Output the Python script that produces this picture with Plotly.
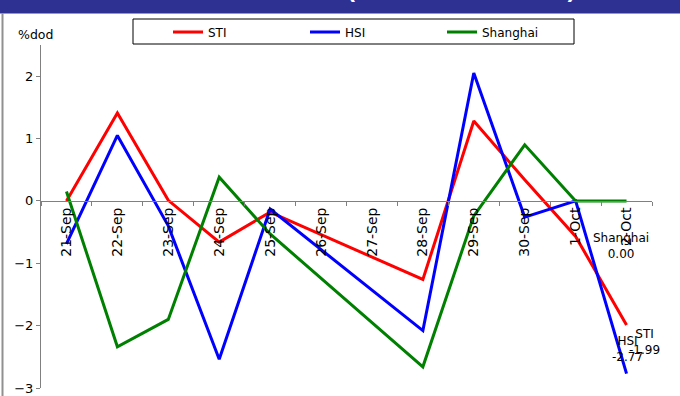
import plotly.graph_objects as go

# Daily % change of regional stock indices
dates = ['21-Sep', '22-Sep', '23-Sep', '24-Sep', '25-Sep', '26-Sep',
         '27-Sep', '28-Sep', '29-Sep', '30-Sep', '1-Oct', '2-Oct']
sti = [0.00, 1.41, 0.01, -0.66, -0.18, None, None, -1.26, 1.28, 0.34, -0.57, -1.99]
hsi = [-0.69, 1.05, -0.40, -2.54, -0.13, None, None, -2.08, 2.05, -0.26, 0.00, -2.77]
shanghai = [0.15, -2.34, -1.90, 0.38, -0.53, None, None, -2.66, -0.24, 0.90, 0.00, 0.00]
y_ticks = [-3, -2, -1, 0, 1, 2]

W, H = 680, 396
L, R, T, B = 41, 28, 45, 8
PW, PH = W - L - R, H - T - B
Y_MIN, Y_MAX = -3, 2.5
FONT = "DejaVu Sans"


def px(x):
    return (x - L) / PW


def py(y):
    return (H - B - y) / PH


series = [
    ("STI", sti, "#FF0000"),
    ("HSI", hsi, "#0000FF"),
    ("Shanghai", shanghai, "#008000"),
]

fig = go.Figure()
for name, vals, color in series:
    fig.add_trace(go.Scatter(
        x=dates, y=vals, name=name, mode="lines",
        line=dict(color=color, width=3),
        connectgaps=True,
    ))

# end-of-period value labels: (series, x shift, y shift)
label_offsets = [("STI", sti, 18, -17), ("HSI", hsi, 1, 25), ("Shanghai", shanghai, -6, -45)]
annotations = []
for name, vals, dx, dy in label_offsets:
    annotations.append(dict(
        x=dates[-1], y=vals[-1], xref="x", yref="y",
        text=f"{name}<br>{vals[-1]:.2f}", showarrow=False,
        xshift=dx, yshift=dy, font=dict(family=FONT, size=12, color="black"),
    ))

annotations.append(dict(
    x=px(35), y=py(35), xref="paper", yref="paper", text="%dod",
    showarrow=False, xanchor="center", yanchor="middle",
    font=dict(family=FONT, size=12.5, color="black"),
))
annotations.append(dict(
    x=px(578), y=py(6.5), xref="paper", yref="paper",
    text="<b>Stock Indices (% dod Movement)</b>", showarrow=False,
    xanchor="right", yanchor="bottom",
    font=dict(family=FONT, size=21.5, color="white"),
))

shapes = [
    dict(type="rect", xref="paper", yref="paper",
         x0=px(0), x1=px(W), y0=py(13.5), y1=py(-5),
         fillcolor="#2E3192", line=dict(width=0), layer="below"),
    dict(type="line", xref="paper", yref="paper",
         x0=px(2.5), x1=px(2.5), y0=py(13.5), y1=py(H + 5),
         line=dict(color="#909090", width=2)),
    dict(type="rect", xref="paper", yref="paper",
         x0=px(133), x1=px(574), y0=py(44), y1=py(19),
         fillcolor="white", line=dict(color="black", width=1), layer="below"),
]

fig.update_layout(
    width=W, height=H,
    margin=dict(l=L, r=R, t=T, b=B, autoexpand=False),
    paper_bgcolor="white", plot_bgcolor="white",
    font=dict(family=FONT, color="black"),
    showlegend=True,
    legend=dict(
        orientation="h", xref="container", yref="container",
        x=168 / W, y=1 - 32 / H, xanchor="left", yanchor="middle",
        entrywidth=92, entrywidthmode="pixels",
        bgcolor="rgba(0,0,0,0)", borderwidth=0,
        font=dict(family=FONT, size=12, color="black"),
        itemclick=False,
    ),
    xaxis=dict(
        type="category", range=[-0.5, len(dates) - 0.5],
        anchor="free", position=(0 - Y_MIN) / (Y_MAX - Y_MIN),
        showline=True, linecolor="#808080", linewidth=1,
        ticks="outside", ticklen=4, tickcolor="#808080", tickson="boundaries",
        tickangle=-90, tickfont=dict(family=FONT, size=14, color="black"),
        showgrid=False, zeroline=False, automargin=False,
    ),
    yaxis=dict(
        range=[Y_MIN, Y_MAX], tickvals=y_ticks,
        showline=True, linecolor="#808080", linewidth=1,
        ticks="outside", ticklen=4, tickcolor="#808080",
        tickfont=dict(family=FONT, size=13, color="black"),
        showgrid=False, zeroline=False, automargin=False,
    ),
    annotations=annotations,
    shapes=shapes,
)

fig.write_html("out.html")
